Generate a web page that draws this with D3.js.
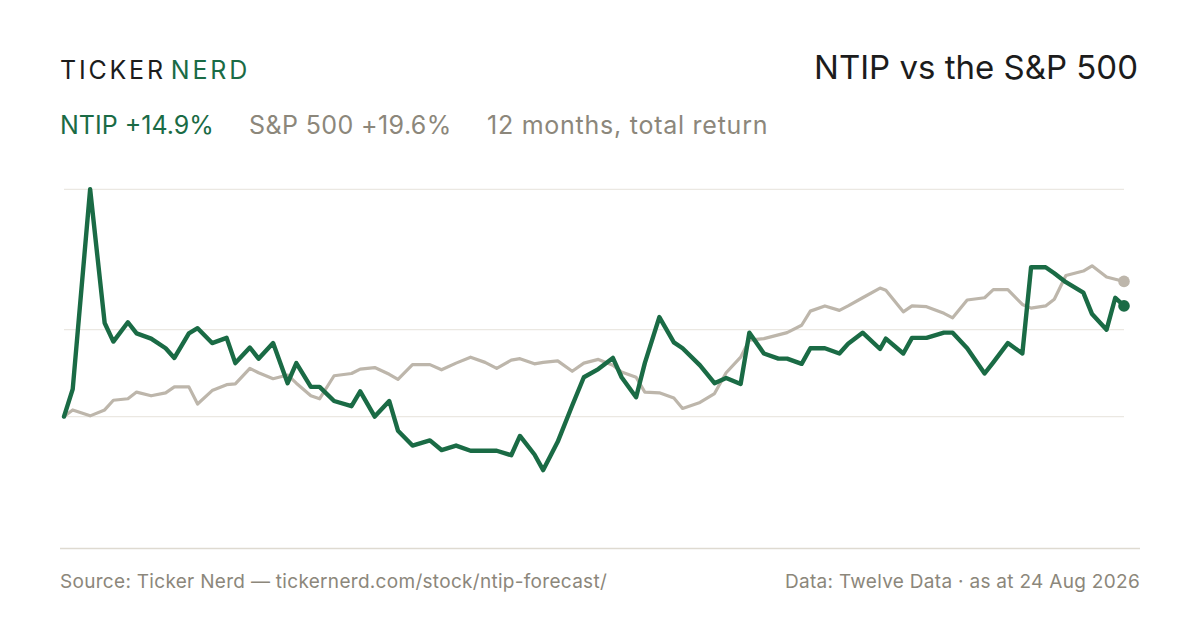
<!DOCTYPE html>
<html>
<head>
<meta charset="utf-8">
<script src="https://cdn.jsdelivr.net/npm/d3@7"></script>
<style>
  html, body { margin: 0; padding: 0; background: #fff; }
  svg { display: block; font-family: Inter, "Noto Sans", sans-serif; }
</style>
</head>
<body>
<svg id="chart" width="1200" height="630"></svg>
<script>
// 12 months to 24 Aug 2026, sampled roughly every third trading day
const startDate = new Date(2025, 7, 24);
const endDate = new Date(2026, 7, 24);
const dayOffsets = [0, 3, 9, 14, 17, 22, 25, 30, 35, 38, 43, 46, 51, 56, 59, 64, 67, 72, 77, 80,
  85, 88, 93, 99, 102, 107, 112, 115, 120, 126, 130, 135, 140, 145, 149, 154, 157, 162, 165, 170,
  175, 179, 184, 189, 192, 197, 200, 205, 210, 213, 219, 224, 228, 233, 236, 241, 246, 249, 254, 257,
  262, 267, 270, 275, 281, 283, 289, 292, 297, 303, 306, 311, 317, 320, 325, 330, 333, 338, 341, 345,
  351, 354, 359, 362, 365];

// cumulative total return, %
const ntipReturn = [0.0, 3.7, 30.6, 12.6, 10.1, 12.7, 11.2, 10.5, 9.2, 7.9, 11.2, 11.9, 9.9, 10.6, 7.2, 9.3, 7.8, 9.9, 4.5, 7.2,
  4.0, 4.0, 2.1, 1.4, 3.4, 0.0, 2.1, -1.9, -3.9, -3.2, -4.5, -3.9, -4.6, -4.6, -4.6, -5.2, -2.6, -5.1, -7.2, -3.4,
  1.5, 5.3, 6.4, 7.9, 5.3, 2.6, 7.2, 13.4, 10.0, 9.2, 6.9, 4.5, 5.2, 4.4, 11.3, 8.5, 7.8, 7.8, 7.1, 9.2,
  9.2, 8.5, 9.8, 11.3, 9.1, 10.5, 8.5, 10.6, 10.6, 11.3, 11.3, 9.2, 5.8, 7.3, 9.9, 8.5, 20.1, 20.1, 19.3, 18.1,
  16.7, 13.8, 11.7, 16.0, 14.9];
const spxReturn = [0.0, 0.9, 0.1, 0.9, 2.2, 2.4, 3.3, 2.8, 3.2, 4.0, 4.0, 1.7, 3.5, 4.3, 4.4, 6.5, 5.9, 5.1, 5.6, 4.5,
  2.8, 2.4, 5.5, 5.8, 6.4, 6.6, 5.7, 5.0, 7.0, 7.0, 6.3, 7.2, 8.0, 7.3, 6.5, 7.6, 7.8, 7.1, 7.3, 7.5,
  6.1, 7.2, 7.7, 6.9, 6.0, 5.3, 3.3, 3.2, 2.5, 1.1, 1.9, 3.1, 5.9, 8.0, 10.3, 10.5, 11.0, 11.3, 12.3, 14.2,
  14.9, 14.3, 14.9, 16.0, 17.3, 17.0, 14.1, 14.9, 14.8, 13.9, 13.3, 15.7, 16.0, 17.1, 17.1, 15.1, 14.6, 14.9, 15.8, 19.0,
  19.6, 20.3, 18.8, 18.5, 18.2];

const gridValues = [0, 11.7, 30.6];

const brandParts = ["TICKER", "NERD"];
const titleText = "NTIP vs the S&P 500";
const legendLabels = ["NTIP +14.9%", "S&P 500 +19.6%", "12 months, total return"];
const sourceText = "Source: Ticker Nerd \u2014 tickernerd.com/stock/ntip-forecast/";
const dataText = "Data: Twelve Data \u00b7 as at 24 Aug 2026";

const GREEN = "#1a6b45";
const SAND = "#bdb6ab";
const MUTED = "#8c877b";
const INK = "#1c1c1c";

// legend placement and look
const legendX = [60, 249, 487];
const legendColor = [GREEN, MUTED, MUTED];
const legendSpacing = [0, 0.4, 0.75];

const svg = d3.select("#chart");

const dates = dayOffsets.map(d => d3.timeDay.offset(startDate, d));
const ntip = dates.map((date, i) => ({ date, value: ntipReturn[i] }));
const spx = dates.map((date, i) => ({ date, value: spxReturn[i] }));

const x = d3.scaleTime().domain([startDate, endDate]).range([64, 1124]);
const y = d3.scaleLinear().domain([0, 30.6]).range([416.6, 189.3]);

// header
const brand = svg.append("text")
  .attr("x", 60).attr("y", 79)
  .attr("font-size", 25).attr("letter-spacing", 2.8).attr("font-weight", 400);
brand.append("tspan").attr("fill", INK).text(brandParts[0]);
brand.append("tspan").attr("fill", GREEN).attr("dx", 5).text(brandParts[1]);

svg.append("text")
  .attr("x", 1138).attr("y", 78.5)
  .attr("text-anchor", "end")
  .attr("font-size", 33).attr("fill", INK)
  .text(titleText);

svg.append("g")
  .selectAll("text")
  .data(legendLabels)
  .join("text")
  .attr("x", (d, i) => legendX[i]).attr("y", 133.5)
  .attr("font-size", 25)
  .attr("letter-spacing", (d, i) => legendSpacing[i])
  .attr("fill", (d, i) => legendColor[i])
  .text(d => d);

// grid
svg.append("g")
  .selectAll("line")
  .data(gridValues)
  .join("line")
  .attr("x1", x.range()[0]).attr("x2", x.range()[1])
  .attr("y1", d => y(d)).attr("y2", d => y(d))
  .attr("stroke", "#ebe8e2").attr("stroke-width", 1.2);

const line = d3.line().x(d => x(d.date)).y(d => y(d.value));

svg.append("path")
  .datum(spx)
  .attr("d", line)
  .attr("fill", "none").attr("stroke", SAND)
  .attr("stroke-width", 3.2).attr("stroke-linejoin", "round").attr("stroke-linecap", "round");

svg.append("path")
  .datum(ntip)
  .attr("d", line)
  .attr("fill", "none").attr("stroke", GREEN)
  .attr("stroke-width", 4.4).attr("stroke-linejoin", "round").attr("stroke-linecap", "round");

// end markers
svg.append("g")
  .selectAll("circle")
  .data([{ d: spx[spx.length - 1], c: SAND }, { d: ntip[ntip.length - 1], c: GREEN }])
  .join("circle")
  .attr("cx", p => x(p.d.date)).attr("cy", p => y(p.d.value))
  .attr("r", 5.8).attr("fill", p => p.c);

// footer
svg.append("line")
  .attr("x1", 60).attr("x2", 1140).attr("y1", 548.5).attr("y2", 548.5)
  .attr("stroke", "#dedad1").attr("stroke-width", 1.5);

svg.append("text")
  .attr("x", 60).attr("y", 587.5)
  .attr("font-size", 19).attr("letter-spacing", 0.3).attr("fill", MUTED)
  .text(sourceText);

svg.append("text")
  .attr("x", 1140).attr("y", 587.5)
  .attr("text-anchor", "end")
  .attr("font-size", 19).attr("letter-spacing", 0.3).attr("fill", MUTED)
  .text(dataText);
</script>
</body>
</html>
